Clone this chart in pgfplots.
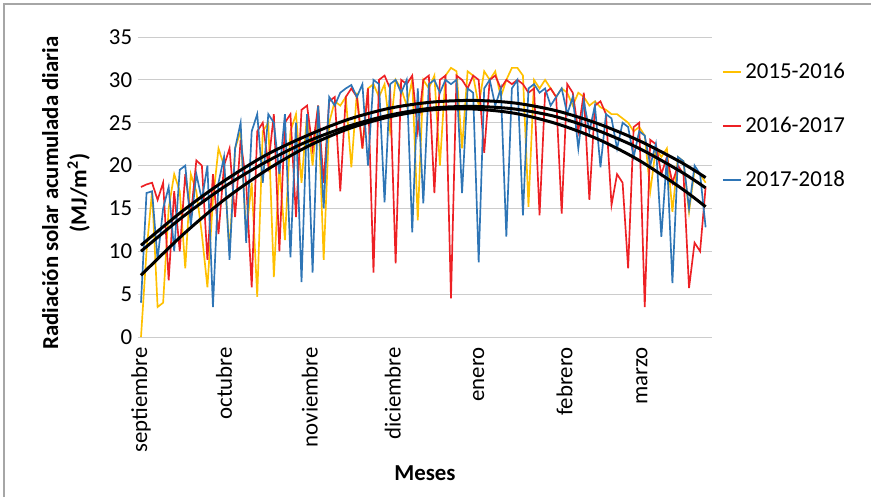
\documentclass[border=0pt]{standalone}
\usepackage{pgfplots}
\pgfplotsset{compat=1.18}
\usepackage{fontspec}
\setmainfont{Carlito}
\definecolor{cOr}{RGB}{255,192,0}
\definecolor{cRe}{RGB}{237,32,36}
\definecolor{cBl}{RGB}{46,117,182}
\begin{document}
\begin{tikzpicture}
\path[use as bounding box] (0,0) rectangle (522.6pt,298.2pt);
\draw[gray!70, line width=1pt] (2.4pt,0) -- (2.4pt,295.8pt) -- (522.6pt,295.8pt);
\begin{axis}[
  at={(82.8pt,96pt)}, anchor=south west, scale only axis,
  width=344.4pt, height=180pt,
  xmin=-1.08, xmax=206.3, ymin=0, ymax=35,
  ytick={0,5,...,35},
  xtick={0,30,61,91,122,153,181},
  xticklabels={septiembre,octubre,noviembre,diciembre,enero,febrero,marzo},
  ymajorgrids, grid style={gray!40, line width=0.6pt},
  axis line style={draw=none},
  tick style={draw=none},
  /pgf/number format/assume math mode=true,
  ticklabel style={font=\fontsize{13.7}{16}\selectfont},
  xticklabel style={rotate=90, anchor=east},
  xticklabel shift=2.5pt,
  xlabel={Meses},
  xlabel style={at={(axis description cs:0.5,-0.455)}, anchor=center, font=\bfseries\fontsize{13.7}{16}\selectfont},
  ylabel={Radiación solar acumulada diaria\\(MJ/m\textsuperscript{2})},
  ylabel style={at={(axis description cs:-0.1254,0.48)}, anchor=center, align=center, font=\bfseries\fontsize{13.7}{17}\selectfont},
  legend style={at={(axis description cs:1.017,0.925)}, anchor=north west, draw=none, fill=none,
    font=\fontsize{13.7}{16}\selectfont, row sep=17.5pt, inner sep=0pt},
  legend cell align=left,
  legend image code/.code={\draw[#1, line width=1pt] (0pt,0pt) -- (11pt,0pt);},
  no markers,
]
\addplot[cOr, line width=1pt] coordinates {(0,0)(2,10)(4,17)(6,3.5)(8,4)(10,15)(12,19)(14,17)(16,8)(18,19)(20,17)(22,12)(24,5.8)(26,16)(28,22)(30,20)(32,10)(34,22)(36,24)(38,12)(40,18)(42,4.7)(44,24)(46,25)(48,7)(50,20)(52,11.3)(54,24)(56,26)(58,18)(60,26)(62,20)(64,27)(66,9)(68,25)(70,27.5)(72,27)(74,28)(76,19.8)(78,28.5)(80,22)(82,29)(84,29.5)(86,28)(88,29.5)(90,24)(92,30)(94,29)(96,27)(98,30)(100,13.6)(102,30)(104,29)(106,30.5)(108,20)(110,30.5)(112,31.4)(114,31)(116,22)(118,31)(120,30.5)(122,27)(124,31)(126,30)(128,31)(130,28)(132,30)(134,31.4)(136,31.4)(138,30.5)(140,15.2)(142,30)(144,29)(146,30)(148,29)(150,28)(152,29)(154,28.5)(156,27)(158,28.5)(160,28)(162,27)(164,27.5)(166,26.8)(168,26.5)(170,26)(172,26)(174,25.5)(176,25)(178,24)(180,24.5)(182,23.5)(184,17)(186,22)(188,21)(190,22)(192,14.6)(194,21)(196,20.5)(198,14.6)(200,19.5)(202,19)(204,18)};
\addlegendentry{2015-2016}
\addplot[cRe, line width=1pt] coordinates {(0,17.5)(2,17.8)(4,18)(6,16)(8,18)(10,6.6)(12,17)(14,10)(16,19)(18,14)(20,20.6)(22,20)(24,9)(26,19)(28,12)(30,20)(32,22)(34,14)(36,23)(38,18)(40,5.8)(42,24)(44,25)(46,20)(48,26)(50,10)(52,25)(54,26)(56,14)(58,26.5)(60,27)(62,22)(64,27)(66,18)(68,27.5)(70,28)(72,17)(74,28)(76,29)(78,28)(80,22)(82,29)(84,7.5)(86,30)(88,30.5)(90,29)(92,8.6)(94,30)(96,29.5)(98,30.5)(100,24)(102,30)(104,30.5)(106,16.8)(108,30)(110,30.5)(112,4.5)(114,30.5)(116,30)(118,29)(120,30.5)(122,30)(124,21.5)(126,30)(128,30.5)(130,29)(132,30)(134,29.5)(136,30)(138,29.5)(140,28.5)(142,29)(144,14.2)(146,28.5)(148,29)(150,28)(152,14.4)(154,29.5)(156,28.5)(158,24)(160,28.5)(162,16)(164,27)(166,27.5)(168,26)(170,15.4)(172,19)(174,18)(176,8)(178,24.5)(180,25)(182,3.5)(184,23)(186,22.5)(188,19)(190,21)(192,18)(194,20)(196,19)(198,5.7)(200,11)(202,10)(204,17.5)};
\addlegendentry{2016-2017}
\addplot[cBl, line width=1pt] coordinates {(0,4)(2,16.8)(4,17)(6,9)(8,15)(10,17.5)(12,10)(14,19.5)(16,20)(18,13)(20,19)(22,16)(24,20)(26,3.5)(28,18)(30,21)(32,9)(34,22)(36,25)(38,11)(40,24)(42,26)(44,18)(46,26)(48,25)(50,19)(52,26)(54,9.3)(56,25)(58,6.4)(60,26)(62,7.5)(64,27)(66,15)(68,28)(70,27)(72,28.5)(74,29)(76,29.4)(78,28)(80,29.5)(82,20)(84,30)(86,29.5)(88,15.7)(90,29.5)(92,30)(94,28.5)(96,30)(98,12.2)(100,29)(102,15.6)(104,29.5)(106,30)(108,28.5)(110,30)(112,29.5)(114,30)(116,16.8)(118,29)(120,28.5)(122,8.7)(124,29)(126,30)(128,27)(130,29)(132,11.7)(134,29)(136,30)(138,14.2)(140,29)(142,29.5)(144,28.5)(146,29)(148,27)(150,28)(152,29)(154,26)(156,28)(158,22)(160,27.5)(162,24)(164,27)(166,19.8)(168,26)(170,25.5)(172,22)(174,25)(176,24.5)(178,21)(180,24)(182,23.5)(184,20)(186,22.5)(188,11.7)(190,21)(192,6.3)(194,21)(196,20.5)(198,15)(200,20)(202,19)(204,12.8)};
\addlegendentry{2017-2018}
\addplot[black, line width=1.8pt, smooth, forget plot] coordinates {(0,7.2)(15,11.9)(30,16.0)(45,19.4)(60,22.2)(75,24.3)(90,25.7)(105,26.5)(120,26.6)(135,26.1)(150,24.9)(165,23.1)(180,20.6)(195,17.4)(204,15.2)};
\addplot[black, line width=1.8pt, smooth, forget plot] coordinates {(0,10.0)(15,14.0)(30,17.5)(45,20.4)(60,22.8)(75,24.6)(90,25.9)(105,26.7)(120,26.9)(135,26.6)(150,25.7)(165,24.1)(180,22.0)(195,19.3)(204,17.4)};
\addplot[black, line width=1.8pt, smooth, forget plot] coordinates {(0,10.7)(15,14.7)(30,18.2)(45,21.2)(60,23.5)(75,25.4)(90,26.7)(105,27.4)(120,27.6)(135,27.3)(150,26.4)(165,24.9)(180,22.9)(195,20.4)(204,18.6)};
\end{axis}
\end{tikzpicture}
\end{document}
